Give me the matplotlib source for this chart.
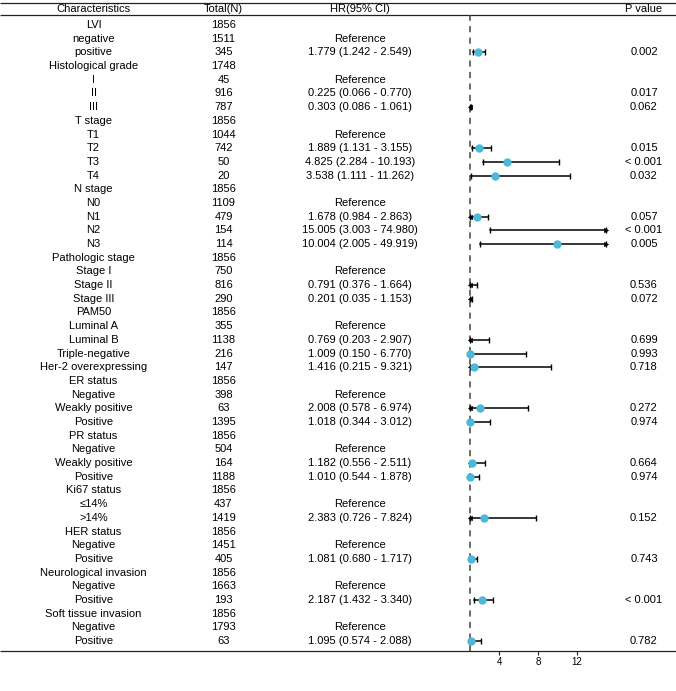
import numpy as np
import matplotlib
matplotlib.use("Agg")
import matplotlib.pyplot as plt

plt.rcParams['font.family'] = ['Liberation Sans', 'DejaVu Sans']

characteristics = ["LVI", "negative", "positive", "Histological grade", "I", "II", "III",
                   "T stage", "T1", "T2", "T3", "T4",
                   "N stage", "N0", "N1", "N2", "N3",
                   "Pathologic stage", "Stage I", "Stage II", "Stage III",
                   "PAM50", "Luminal A", "Luminal B", "Triple-negative", "Her-2 overexpressing",
                   "ER status", "Negative", "Weakly positive", "Positive",
                   "PR status", "Negative", "Weakly positive", "Positive",
                   "Ki67 status", "\u226414%", ">14%",
                   "HER status", "Negative", "Positive",
                   "Neurological invasion", "Negative", "Positive",
                   "Soft tissue invasion", "Negative", "Positive"]
totals = [1856, 1511, 345, 1748, 45, 916, 787,
          1856, 1044, 742, 50, 20,
          1856, 1109, 479, 154, 114,
          1856, 750, 816, 290,
          1856, 355, 1138, 216, 147,
          1856, 398, 63, 1395,
          1856, 504, 164, 1188,
          1856, 437, 1419,
          1856, 1451, 405,
          1856, 1663, 193,
          1856, 1793, 63]
# row kind: 'h' header, 'r' reference, 'e' estimate
kinds = ['h', 'r', 'e', 'h', 'r', 'e', 'e',
         'h', 'r', 'e', 'e', 'e',
         'h', 'r', 'e', 'e', 'e',
         'h', 'r', 'e', 'e',
         'h', 'r', 'e', 'e', 'e',
         'h', 'r', 'e', 'e',
         'h', 'r', 'e', 'e',
         'h', 'r', 'e',
         'h', 'r', 'e',
         'h', 'r', 'e',
         'h', 'r', 'e']
# values for the estimate rows, in order
hr_values = [1.779, 0.225, 0.303, 1.889, 4.825, 3.538, 1.678, 15.005, 10.004,
             0.791, 0.201, 0.769, 1.009, 1.416, 2.008, 1.018, 1.182, 1.010,
             2.383, 1.081, 2.187, 1.095]
ci_lower = [1.242, 0.066, 0.086, 1.131, 2.284, 1.111, 0.984, 3.003, 2.005,
            0.376, 0.035, 0.203, 0.150, 0.215, 0.578, 0.344, 0.556, 0.544,
            0.726, 0.680, 1.432, 0.574]
ci_upper = [2.549, 0.770, 1.061, 3.155, 10.193, 11.262, 2.863, 74.980, 49.919,
            1.664, 1.153, 2.907, 6.770, 9.321, 6.974, 3.012, 2.511, 1.878,
            7.824, 1.717, 3.340, 2.088]
p_values = ["0.002", "0.017", "0.062", "0.015", "< 0.001", "0.032", "0.057", "< 0.001", "0.005",
            "0.536", "0.072", "0.699", "0.993", "0.718", "0.272", "0.974", "0.664", "0.974",
            "0.152", "0.743", "< 0.001", "0.782"]
x_ticks = [4, 8, 12]
x_min, x_max = 1, 15

W, H = 676, 691
fig = plt.figure(figsize=(W / 100, H / 100), dpi=100)
ax = fig.add_axes([0, 0, 1, 1])
ax.set_xlim(0, W)
ax.set_ylim(H, 0)
ax.axis('off')

row0, dy = 25.0, 13.69
top_line, head_line, bottom_line = 3.0, 15.0, 651.0
head_y = 9.0
col_char, col_tot, col_hr, col_p = 93.5, 223.5, 360, 644
fs = 8
line_col = '#222222'

# header
for x, t in [(col_char, "Characteristics"), (col_tot, "Total(N)"), (col_hr, "HR(95% CI)"), (col_p, "P value")]:
    ax.text(x, head_y, t, ha='center', va='center', fontsize=fs)
for yl in (top_line, head_line, bottom_line):
    ax.plot([0, W], [yl, yl], color=line_col, lw=0.9, solid_capstyle='butt')

# forest axes
fl = 470.3
fr = 605.7
fax = fig.add_axes([fl / W, (H - bottom_line) / H, (fr - fl) / W, (bottom_line - head_line) / H])
fax.set_xlim(x_min, x_max)
n = len(characteristics)
fax.set_ylim((bottom_line - row0) / dy, (head_line - row0) / dy)
for s in fax.spines.values():
    s.set_visible(False)
fax.set_yticks([])
fax.set_xticks(x_ticks)
fax.tick_params(axis='x', direction='out', length=3, width=0.8, labelsize=7, pad=1.5, color=line_col)
fax.patch.set_alpha(0)
fax.axvline(1, color='#444444', lw=1.1, dashes=(4, 3.5), clip_on=False, zorder=1)

dot_col = '#4DB8D8'
k = 0
for i, (name, tot, kind) in enumerate(zip(characteristics, totals, kinds)):
    y = row0 + dy * i
    ax.text(col_char, y, name, ha='center', va='center', fontsize=fs)
    ax.text(col_tot, y, str(tot), ha='center', va='center', fontsize=fs)
    if kind == 'r':
        ax.text(col_hr, y, "Reference", ha='center', va='center', fontsize=fs)
    elif kind == 'e':
        hr, lo, hi = hr_values[k], ci_lower[k], ci_upper[k]
        ax.text(col_hr, y, f"{hr:.3f} ({lo:.3f} - {hi:.3f})", ha='center', va='center', fontsize=fs)
        ax.text(col_p, y, p_values[k], ha='center', va='center', fontsize=fs)
        if hi > x_min:
            lc, hc = max(lo, x_min), min(hi, x_max)
            fax.plot([lc, hc], [i, i], color='black', lw=1.1, clip_on=False, zorder=2)
            fax.plot([lc], [i], marker='|', color='black', ms=4, mew=1.0, clip_on=False, zorder=2)
            fax.plot([hc], [i], marker='|', color='black', ms=4, mew=1.0, clip_on=False, zorder=2)
            if lo < x_min:
                fax.plot([lc], [i], marker='<', color='black', ms=3, mew=0.5, clip_on=False, zorder=2,
                         markevery=None)
            if hi > x_max:
                fax.plot([hc], [i], marker='>', color='black', ms=3, mew=0.5, clip_on=False, zorder=2)
            if x_min <= hr <= x_max:
                fax.plot([hr], [i], marker='o', color=dot_col, ms=5, mec=dot_col, clip_on=False, zorder=3)
        k += 1

fig.savefig("out.png", dpi=100)
